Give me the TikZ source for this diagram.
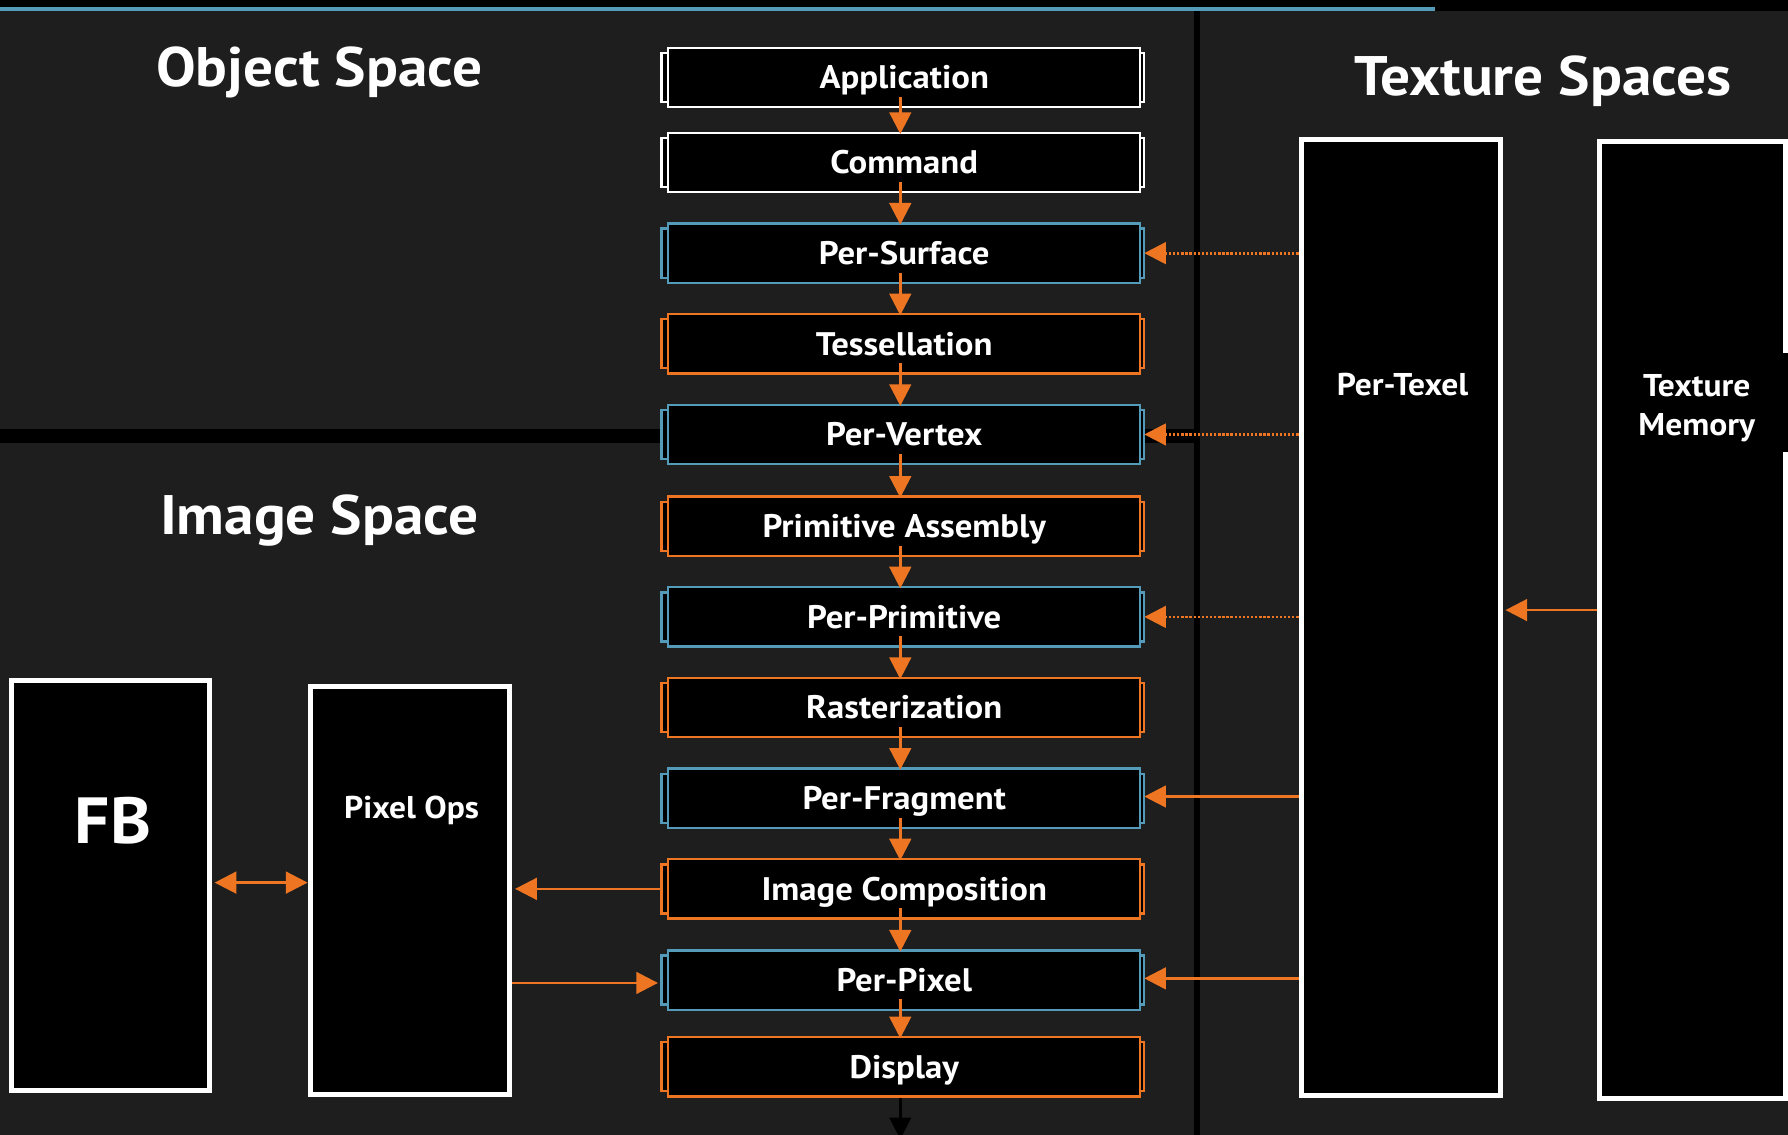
\documentclass[tikz,border=0pt]{standalone}
\usepackage{fontspec}
\setmainfont{PT Sans}[FakeStretch=1.065]
\usetikzlibrary{arrows.meta,calc}
\definecolor{pbg}{RGB}{30,30,30}
\definecolor{porange}{RGB}{238,118,35}
\definecolor{pblue}{RGB}{84,155,185}
\pgfdeclarelayer{back}
\pgfdeclarelayer{mid}
\pgfsetlayers{back,mid,main}

\begin{document}
\begin{tikzpicture}[x=0.5pt,y=-0.5pt,
  stage/.style={draw, fill=black, line width=1pt, minimum width=207pt,
    minimum height=26pt, inner sep=0pt, text=white,
    font=\fontsize{14.3}{17}\selectfont\bfseries, text height=10pt, text depth=0pt},
  bigbox/.style={draw=white, fill=black, line width=2.25pt, inner sep=0pt},
  title/.style={text=white, font=\fontsize{24.4}{28}\selectfont\bfseries, anchor=base, inner sep=0pt},
  boxlabel/.style={text=white, font=\fontsize{13.8}{16.75}\selectfont\bfseries, anchor=base, inner sep=0pt},
  flow/.style={draw=porange, line width=1.2pt, -{Triangle[length=9.5pt,width=9.5pt]}},
  twoway/.style={draw=porange, line width=1.2pt, {Triangle[length=9.5pt,width=9.5pt]}-{Triangle[length=9.5pt,width=9.5pt]}},
  fetch/.style={flow, line cap=butt, dash pattern=on 1.05pt off 0.75pt},
]
\useasboundingbox (0,0) rectangle (1568,995);

% backdrop, header rule and region separators
\begin{pgfonlayer}{back}
  \fill[pbg] (0,0) rectangle (1568,995);
  \fill[black] (0,0) rectangle (1568,10);
  \fill[pblue] (0,6) rectangle (1258,9.5);
  \fill[black] (1047,10) rectangle (1052,995);
  \fill[black] (0,376) rectangle (1047,388.5);
\end{pgfonlayer}

% region titles
\node[title] (tobj) at (280,76) {Object Space};
\node[title] (timg) at (280,469) {Image Space};
\node[title] (ttex) at (1353,83.5) {Texture Spaces};

% pipeline stages with their side brackets
\foreach \n/\y/\t/\c in {app/68/Application/white, cmd/142.5/Command/white,
    srf/222/Per-Surface/pblue, tes/301.5/Tessellation/porange,
    vtx/381/Per-Vertex/pblue, pa/461.5/Primitive Assembly/porange,
    prim/541/Per-Primitive/pblue, ras/620.5/Rasterization/porange,
    frag/700/Per-Fragment/pblue, ic/779.5/Image Composition/porange,
    pix/859.5/Per-Pixel/pblue, disp/935.5/Display/porange}{
  \node[stage, draw=\c] (\n) at (793,\y) {\t};
  \begin{pgfonlayer}{mid}
    \draw[line width=1pt, draw=\c, fill=black]
      ($(\n.north west)+(-5,5.5)$) rectangle ($(\n.south east)+(2,-5.5)$);
  \end{pgfonlayer}
}

% stage-to-stage flow
\foreach \a/\b in {app/cmd, cmd/srf, srf/tes, tes/vtx, vtx/pa, pa/prim,
    prim/ras, ras/frag, frag/ic, ic/pix, pix/disp}{
  \draw[flow] ($(\a.south)+(-3.5,-10)$) -- ($(\b.north)+(-3.5,2)$);
}
\coordinate (out) at (789.5,999);
\draw[flow, draw=black] ($(disp.south)+(-3.5,0)$) -- (out);

% texture units
\node[bigbox, minimum width=87.5pt, minimum height=419.5pt] (ptx) at (1228.5,541.5) {};
\node[bigbox, minimum width=81.5pt, minimum height=419.5pt] (tm) at (1484.5,543.5) {};
\node[boxlabel] (ptxl) at (1230,346.5) {Per-Texel};
% the label's backing runs over the box's right edge
\fill[black] (1420,310) rectangle (1568,396);
\node[boxlabel, align=center] (tml) at (1488,381.5) {Texture\\Memory};

% frame buffer side
\node[bigbox, minimum width=87pt, minimum height=179.5pt] (fb) at (97,776.5) {};
\node[bigbox, minimum width=87.5pt, minimum height=179pt] (po) at (359.5,781) {};
\node[text=white, font=\fontsize{28.6}{32}\selectfont\bfseries, anchor=base, inner sep=0pt] (fbl) at (99,740) {FB};
\node[boxlabel] (pol) at (361,718) {Pixel Ops};

% connections
\draw[twoway] ($(fb.east)+(2,-2.5)$) -- ($(po.west |- fb.east)+(0,-2.5)$);
\draw[flow] ($(ic.west)+(-5,0)$) -- ($(po.east |- ic.west)+(2.5,0)$);
\draw[flow] ($(po.east |- pix.west)+(0,2.5)$) -- ($(pix.west)+(-8,2.5)$);

\foreach \s in {srf, vtx, prim}{
  \draw[fetch] (ptx.west |- \s.east) -- ($(\s.east)+(2.5,0)$);
}
\foreach \s in {frag, pix}{
  \draw[flow] ($(ptx.west |- \s.east)+(0,-1.5)$) -- ($(\s.east)+(2.5,-1.5)$);
}
\draw[flow] ($(tm.west)+(0,-8.5)$) -- ($(ptx.east |- tm.west)+(2,-8.5)$);
\end{tikzpicture}
\end{document}
